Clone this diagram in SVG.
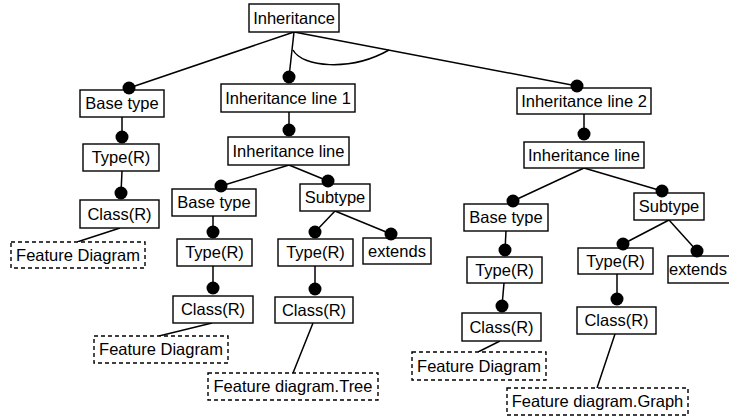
<svg xmlns="http://www.w3.org/2000/svg" width="729" height="417" viewBox="0 0 729 417">
  <style>
    .box { fill: #fff; stroke: #000; stroke-width: 1.4; }
    .ref { fill: #fff; stroke: #000; stroke-width: 1.4; stroke-dasharray: 4 3; }
    .lbl { font-family: "Liberation Sans", Arial, sans-serif; font-size: 16.5px; fill: #000; text-anchor: middle; }
    .edge { stroke: #000; stroke-width: 1.5; fill: none; }
    .dot { fill: #000; }
  </style>
  <rect width="729" height="417" fill="#fff"/>

  <!-- connectors -->
  <g id="connectors" class="edge">
    <line x1="294" y1="32" x2="129" y2="88"/>
    <line x1="294" y1="32" x2="289" y2="77"/>
    <line x1="294" y1="32" x2="577" y2="86"/>
    <path d="M293,50 C302,67 350,72 389,50"/>
    <line x1="122" y1="117" x2="122" y2="137"/>
    <line x1="122" y1="171" x2="121" y2="193"/>
    <line x1="120" y1="228" x2="77" y2="242"/>
    <line x1="289" y1="112" x2="289" y2="130"/>
    <line x1="289" y1="165" x2="221" y2="186"/>
    <line x1="289" y1="165" x2="328" y2="181"/>
    <line x1="213" y1="216" x2="213" y2="232"/>
    <line x1="213" y1="266" x2="213" y2="288"/>
    <line x1="212" y1="323" x2="159" y2="336"/>
    <line x1="335" y1="211" x2="315" y2="232"/>
    <line x1="335" y1="211" x2="391" y2="234"/>
    <line x1="315" y1="266" x2="315" y2="289"/>
    <line x1="313" y1="323" x2="293" y2="373"/>
    <line x1="584" y1="114" x2="584" y2="134"/>
    <line x1="584" y1="168" x2="513" y2="201"/>
    <line x1="584" y1="168" x2="662" y2="191"/>
    <line x1="506" y1="231" x2="505" y2="250"/>
    <line x1="504" y1="283" x2="502" y2="306"/>
    <line x1="500" y1="341" x2="478" y2="352"/>
    <line x1="669" y1="220" x2="623" y2="244"/>
    <line x1="669" y1="220" x2="697" y2="251"/>
    <line x1="617" y1="274" x2="617" y2="299"/>
    <line x1="615" y1="334" x2="597" y2="388"/>
  </g>

  <!-- nodes -->
  <g id="inheritance"><rect class="box" x="249" y="4" width="90" height="28"/><text class="lbl" x="294" y="24">Inheritance</text></g>

  <g id="base-type-l"><rect class="box" x="80" y="90" width="84" height="27"/><text class="lbl" x="122" y="109">Base type</text><circle class="dot" cx="129" cy="88" r="6.5"/></g>
  <g id="type-l"><rect class="box" x="83" y="144" width="76" height="27"/><text class="lbl" x="121" y="163">Type(R)</text><circle class="dot" cx="122" cy="137" r="6.5"/></g>
  <g id="class-l"><rect class="box" x="80" y="200" width="79" height="28"/><text class="lbl" x="119.5" y="220">Class(R)</text><circle class="dot" cx="121" cy="193" r="6.5"/></g>
  <g id="fd-l"><rect class="ref" x="11" y="242" width="134" height="26"/><text class="lbl" x="78" y="261">Feature Diagram</text></g>

  <g id="inh-line-1"><rect class="box" x="221" y="84" width="134" height="28"/><text class="lbl" x="288" y="104">Inheritance line 1</text><circle class="dot" cx="289" cy="77" r="6.5"/></g>
  <g id="inh-line-m"><rect class="box" x="228" y="137" width="121" height="28"/><text class="lbl" x="288.5" y="157">Inheritance line</text><circle class="dot" cx="289" cy="130" r="6.5"/></g>
  <g id="base-type-m"><rect class="box" x="172" y="189" width="84" height="27"/><text class="lbl" x="214" y="208">Base type</text><circle class="dot" cx="221" cy="186" r="6.5"/></g>
  <g id="subtype-m"><rect class="box" x="300" y="184" width="70" height="27"/><text class="lbl" x="335" y="203">Subtype</text><circle class="dot" cx="328" cy="181" r="6.5"/></g>
  <g id="type-m1"><rect class="box" x="177" y="239" width="75" height="27"/><text class="lbl" x="214.5" y="258">Type(R)</text><circle class="dot" cx="213" cy="232" r="6.5"/></g>
  <g id="class-m1"><rect class="box" x="173" y="296" width="80" height="27"/><text class="lbl" x="213" y="315">Class(R)</text><circle class="dot" cx="213" cy="288" r="6.5"/></g>
  <g id="fd-m"><rect class="ref" x="94" y="336" width="134" height="27"/><text class="lbl" x="161" y="355">Feature Diagram</text></g>
  <g id="type-m2"><rect class="box" x="278" y="239" width="75" height="27"/><text class="lbl" x="315.5" y="258">Type(R)</text><circle class="dot" cx="315" cy="232" r="6.5"/></g>
  <g id="extends-m"><rect class="box" x="363" y="238" width="68" height="26"/><text class="lbl" x="397" y="257">extends</text><circle class="dot" cx="391" cy="234" r="6.5"/></g>
  <g id="class-m2"><rect class="box" x="275" y="297" width="78" height="26"/><text class="lbl" x="314" y="316">Class(R)</text><circle class="dot" cx="315" cy="289" r="6.5"/></g>
  <g id="fd-tree"><rect class="ref" x="208" y="373" width="170" height="27"/><text class="lbl" x="293" y="392">Feature diagram.Tree</text></g>

  <g id="inh-line-2"><rect class="box" x="517" y="88" width="134" height="26"/><text class="lbl" x="584" y="107">Inheritance line 2</text><circle class="dot" cx="577" cy="86" r="6.5"/></g>
  <g id="inh-line-r"><rect class="box" x="524" y="142" width="120" height="26"/><text class="lbl" x="584" y="161">Inheritance line</text><circle class="dot" cx="584" cy="134" r="6.5"/></g>
  <g id="base-type-r"><rect class="box" x="464" y="204" width="84" height="27"/><text class="lbl" x="506" y="223">Base type</text><circle class="dot" cx="513" cy="201" r="6.5"/></g>
  <g id="subtype-r"><rect class="box" x="634" y="193" width="70" height="27"/><text class="lbl" x="669" y="212">Subtype</text><circle class="dot" cx="662" cy="191" r="6.5"/></g>
  <g id="type-r1"><rect class="box" x="467" y="257" width="75" height="26"/><text class="lbl" x="504.5" y="276">Type(R)</text><circle class="dot" cx="505" cy="250" r="6.5"/></g>
  <g id="class-r1"><rect class="box" x="462" y="313" width="79" height="28"/><text class="lbl" x="501.5" y="333">Class(R)</text><circle class="dot" cx="502" cy="306" r="6.5"/></g>
  <g id="fd-r"><rect class="ref" x="412" y="352" width="134" height="28"/><text class="lbl" x="479" y="372">Feature Diagram</text></g>
  <g id="type-r2"><rect class="box" x="578" y="248" width="75" height="26"/><text class="lbl" x="615.5" y="267">Type(R)</text><circle class="dot" cx="623" cy="244" r="6.5"/></g>
  <g id="extends-r"><rect class="box" x="668" y="256" width="66" height="27"/><text class="lbl" x="698" y="275">extends</text><circle class="dot" cx="697" cy="251" r="6.5"/></g>
  <g id="class-r2"><rect class="box" x="577" y="307" width="79" height="27"/><text class="lbl" x="616.5" y="326">Class(R)</text><circle class="dot" cx="617" cy="299" r="6.5"/></g>
  <g id="fd-graph"><rect class="ref" x="507" y="388" width="181" height="27"/><text class="lbl" x="597.5" y="407">Feature diagram.Graph</text></g>
</svg>
